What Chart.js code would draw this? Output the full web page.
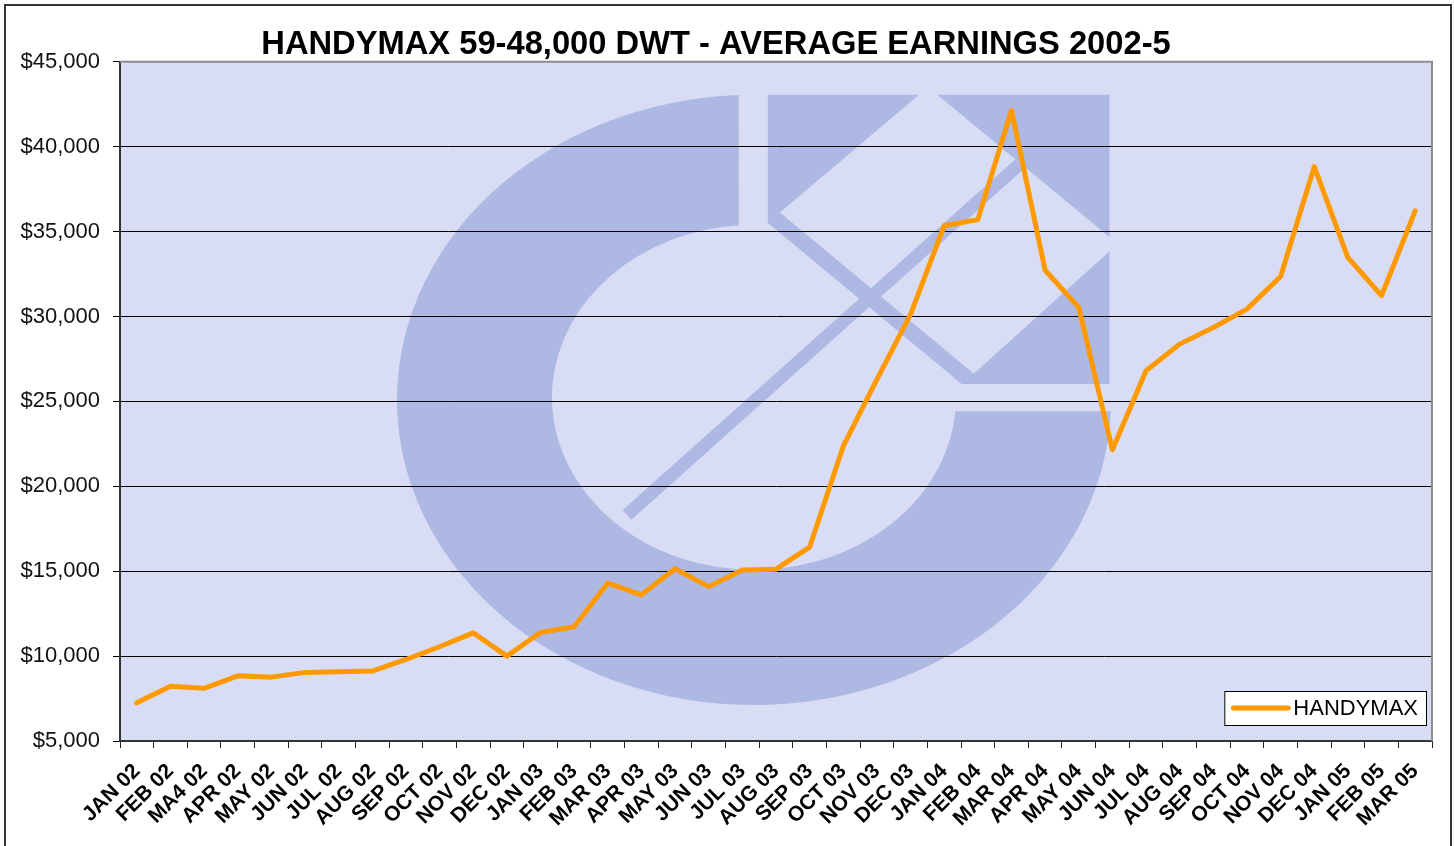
<!DOCTYPE html>
<html>
<head>
<meta charset="utf-8">
<script src="https://cdn.jsdelivr.net/npm/chart.js@4/dist/chart.umd.min.js"></script>
<style>
  html, body { margin: 0; padding: 0; background: #fff; }
</style>
</head>
<body>
<canvas id="myChart" width="1454" height="846"></canvas>
<script>
var months = ['JAN 02', 'FEB 02', 'MA4 02', 'APR 02', 'MAY 02', 'JUN 02', 'JUL 02', 'AUG 02',
    'SEP 02', 'OCT 02', 'NOV 02', 'DEC 02', 'JAN 03', 'FEB 03', 'MAR 03', 'APR 03', 'MAY 03',
    'JUN 03', 'JUL 03', 'AUG 03', 'SEP 03', 'OCT 03', 'NOV 03', 'DEC 03', 'JAN 04', 'FEB 04',
    'MAR 04', 'APR 04', 'MAY 04', 'JUN 04', 'JUL 04', 'AUG 04', 'SEP 04', 'OCT 04', 'NOV 04',
    'DEC 04', 'JAN 05', 'FEB 05', 'MAR 05'];
var handymax = [7250, 8230, 8100, 8840, 8760, 9040, 9080, 9120, 9800, 10550, 11370, 10000,
    11390, 11730, 14300, 13610, 15140, 14090, 15070, 15120, 16420, 22360, 26300, 30120,
    35340, 35700, 42140, 32720, 30530, 22150, 26800, 28370, 29350, 30430, 32350, 38820,
    33470, 31220, 36220];
var yMin = 5000, yMax = 45000, yStep = 5000;

var fontFamily = "'Liberation Sans', Arial, sans-serif";
Chart.defaults.font.family = fontFamily;

// plot background, company logo watermark and the outer frame
var backdrop = {
    id: 'backdrop',
    beforeDraw: function(chart) {
        var ctx = chart.ctx, ca = chart.chartArea;
        ctx.save();
        ctx.strokeStyle = '#333';
        ctx.lineWidth = 2;
        ctx.strokeRect(5, 5, chart.width - 8, chart.height + 20);

        ctx.fillStyle = '#d8ddf5';
        ctx.fillRect(ca.left, ca.top, ca.right - ca.left, ca.bottom - ca.top);

        var sx = (ca.right - ca.left) / 1312, sy = (ca.bottom - ca.top) / 679;
        function X(x) { return ca.left + (x - 120) * sx; }
        function Y(y) { return ca.top + (y - 62) * sy; }
        ctx.fillStyle = '#adb8e3';
        ctx.strokeStyle = '#adb8e3';

        ctx.beginPath();
        ctx.ellipse(X(754), Y(400), 357 * sx, 305 * sy, 0, -1.6137, 0.0374, true);
        ctx.ellipse(X(754), Y(397.5), 202 * sx, 172.5 * sy, 0, 0.0807, -1.6465, false);
        ctx.closePath();
        ctx.fill();

        var poly = [[767.8, 95.1], [919, 95.1], [779.9, 212.7], [973.8, 373.9], [1109.5, 251.4],
            [1109.5, 384.1], [961.7, 384.1], [767.8, 222.9]];
        ctx.beginPath();
        poly.forEach(function(p, i) {
            if (i === 0) ctx.moveTo(X(p[0]), Y(p[1])); else ctx.lineTo(X(p[0]), Y(p[1]));
        });
        ctx.closePath();
        ctx.fill();

        ctx.beginPath();
        ctx.moveTo(X(937.4), Y(95.1));
        ctx.lineTo(X(1109.5), Y(95.1));
        ctx.lineTo(X(1109.5), Y(237.1));
        ctx.closePath();
        ctx.fill();

        ctx.beginPath();
        ctx.lineWidth = 13;
        ctx.moveTo(X(627), Y(515));
        ctx.lineTo(X(1020), Y(164));
        ctx.stroke();
        ctx.restore();
    },
    beforeDatasetsDraw: function(chart) {
        var ctx = chart.ctx, ca = chart.chartArea;
        ctx.save();
        ctx.strokeStyle = '#8c8c8c';
        ctx.lineWidth = 2;
        ctx.beginPath();
        ctx.moveTo(ca.left, ca.top);
        ctx.lineTo(ca.right, ca.top);
        ctx.lineTo(ca.right, ca.bottom);
        ctx.stroke();
        ctx.restore();
    }
};

// legend box inside the plot, bottom right
var innerLegend = {
    id: 'innerLegend',
    afterDraw: function(chart) {
        var ctx = chart.ctx, ca = chart.chartArea;
        var ds = chart.data.datasets[0];
        ctx.save();
        ctx.font = '22px ' + fontFamily;
        var tw = ctx.measureText(ds.label).width;
        var w = 7 + 58 + 4 + tw + 8, h = 34;
        var x = ca.right - 6 - w, y = ca.bottom - 16 - h;
        ctx.fillStyle = '#fff';
        ctx.fillRect(x, y, w, h);
        ctx.strokeStyle = '#000';
        ctx.lineWidth = 1;
        ctx.strokeRect(x + 0.5, y + 0.5, w, h);
        ctx.strokeStyle = ds.borderColor;
        ctx.lineWidth = 5;
        ctx.lineCap = 'round';
        ctx.beginPath();
        ctx.moveTo(x + 9, y + h / 2);
        ctx.lineTo(x + 64, y + h / 2);
        ctx.stroke();
        ctx.fillStyle = '#000';
        ctx.textBaseline = 'middle';
        ctx.fillText(ds.label, x + 69, y + h / 2 + 1);
        ctx.restore();
    }
};

var ctx = document.getElementById('myChart').getContext('2d');
var myChart = new Chart(ctx, {
    type: 'line',
    data: {
        labels: months,
        datasets: [{
            label: 'HANDYMAX',
            data: handymax,
            fill: false,
            borderColor: '#ff9900',
            backgroundColor: '#ff9900',
            borderWidth: 5,
            pointRadius: 0,
            tension: 0,
            borderJoinStyle: 'round',
            borderCapStyle: 'round'
        }]
    },
    options: {
        responsive: false,
        animation: false,
        layout: {
            padding: { left: 0, right: 22, top: 0, bottom: 0 }
        },
        plugins: {
            legend: { display: false },
            tooltip: { enabled: false },
            title: {
                display: true,
                text: 'HANDYMAX 59-48,000 DWT - AVERAGE EARNINGS 2002-5',
                color: '#000',
                font: { size: 32.7, weight: 'bold', lineHeight: 1.0 },
                padding: { top: 29, bottom: 0 }
            }
        },
        scales: {
            x: {
                offset: true,
                grid: {
                    display: true,
                    drawOnChartArea: false,
                    drawTicks: true,
                    tickLength: 7,
                    offset: true,
                    color: '#222'
                },
                border: { display: true, color: '#333', width: 2 },
                ticks: {
                    autoSkip: false,
                    minRotation: 45,
                    maxRotation: 45,
                    color: '#000',
                    padding: 11,
                    font: { size: 21, weight: 'bold' }
                },
                afterFit: function(scale) { scale.height = 105; }
            },
            y: {
                min: yMin,
                max: yMax,
                grid: { color: '#000', lineWidth: 1, tickLength: 7 },
                border: { display: true, color: '#333', width: 2 },
                ticks: {
                    stepSize: yStep,
                    color: '#111',
                    padding: 13,
                    font: { size: 22 },
                    callback: function(v) { return '$' + v.toLocaleString('en-US'); }
                },
                afterFit: function(scale) { scale.width = 120; }
            }
        }
    },
    plugins: [backdrop, innerLegend]
});
</script>
</body>
</html>
